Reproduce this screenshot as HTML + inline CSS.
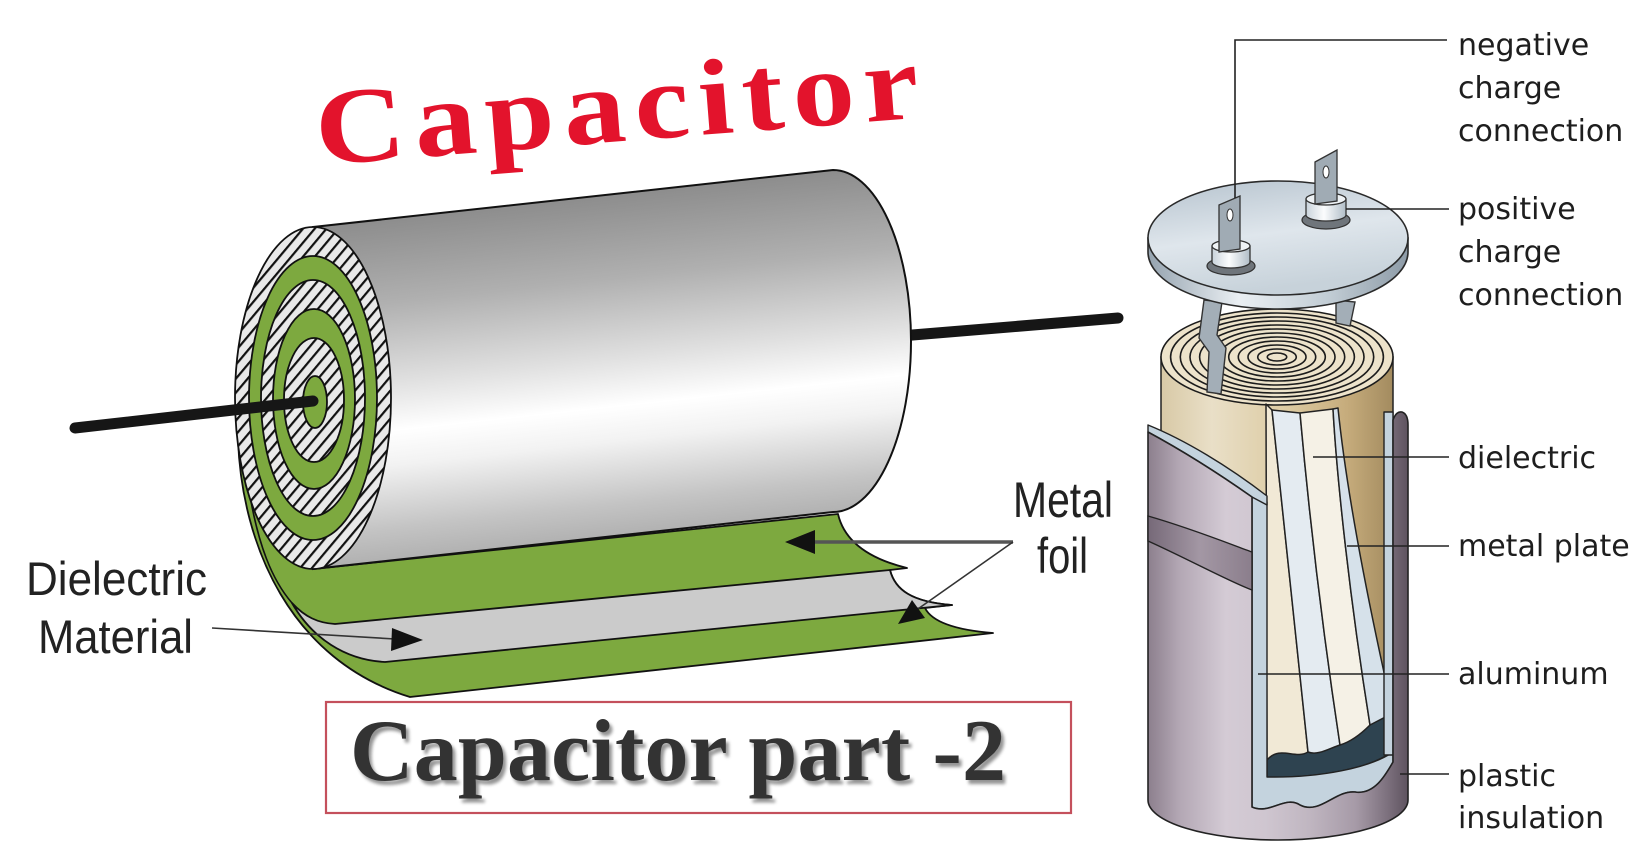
<!DOCTYPE html>
<html><head><meta charset="utf-8"><style>
html,body{margin:0;padding:0;background:#fff;}
svg{display:block;}
</style></head><body>
<svg width="1646" height="841" viewBox="0 0 1646 841" xmlns="http://www.w3.org/2000/svg">
<defs>
<pattern id="hatch" patternUnits="userSpaceOnUse" width="9" height="9" patternTransform="rotate(40)">
<rect width="9" height="9" fill="#e9e9e9"/>
<line x1="1" y1="0" x2="1" y2="9" stroke="#111" stroke-width="2.4"/>
</pattern>
<linearGradient id="cyl" gradientUnits="userSpaceOnUse" x1="560" y1="198" x2="597" y2="540">
<stop offset="0" stop-color="#8c8c8c"/>
<stop offset="0.25" stop-color="#b0b0b0"/>
<stop offset="0.48" stop-color="#e0e0e0"/>
<stop offset="0.62" stop-color="#ffffff"/>
<stop offset="0.72" stop-color="#f2f2f2"/>
<stop offset="0.9" stop-color="#c4c4c4"/>
<stop offset="1" stop-color="#b0b0b0"/>
</linearGradient>
<linearGradient id="roll" gradientUnits="userSpaceOnUse" x1="1161" y1="0" x2="1393" y2="0">
<stop offset="0" stop-color="#d8c9a6"/>
<stop offset="0.22" stop-color="#e9dfc7"/>
<stop offset="0.55" stop-color="#dccaa1"/>
<stop offset="0.8" stop-color="#c6ac7c"/>
<stop offset="1" stop-color="#a38b5f"/>
</linearGradient>
<linearGradient id="can" gradientUnits="userSpaceOnUse" x1="1148" y1="0" x2="1408" y2="0">
<stop offset="0" stop-color="#8c7f8d"/>
<stop offset="0.12" stop-color="#b3a7b4"/>
<stop offset="0.3" stop-color="#d4cbd5"/>
<stop offset="0.45" stop-color="#cfc6d0"/>
<stop offset="0.62" stop-color="#c0b6c1"/>
<stop offset="0.8" stop-color="#a69aa7"/>
<stop offset="0.92" stop-color="#7d717e"/>
<stop offset="1" stop-color="#5e535f"/>
</linearGradient>
<linearGradient id="band" gradientUnits="userSpaceOnUse" x1="1148" y1="0" x2="1252" y2="0">
<stop offset="0" stop-color="#766978"/>
<stop offset="0.5" stop-color="#a397a4"/>
<stop offset="1" stop-color="#8b7e8c"/>
</linearGradient>
<linearGradient id="disk" x1="0" y1="0" x2="0.3" y2="1">
<stop offset="0" stop-color="#b6c3ce"/>
<stop offset="0.55" stop-color="#dfe6ec"/>
<stop offset="1" stop-color="#c7d2da"/>
</linearGradient>
<linearGradient id="rim" x1="0" y1="0" x2="1" y2="0">
<stop offset="0" stop-color="#95a3af"/>
<stop offset="0.35" stop-color="#eaeff3"/>
<stop offset="0.7" stop-color="#c1ccd4"/>
<stop offset="1" stop-color="#8d9ba7"/>
</linearGradient>
<linearGradient id="boss" x1="0" y1="0" x2="1" y2="0">
<stop offset="0" stop-color="#c9d3db"/>
<stop offset="0.45" stop-color="#fbfcfd"/>
<stop offset="1" stop-color="#b0bdc7"/>
</linearGradient>
<filter id="blur" x="-5%" y="-20%" width="110%" height="140%"><feGaussianBlur stdDeviation="1.6"/></filter>
</defs>

<rect width="1646" height="841" fill="#fff"/>

<!-- Title -->
<g transform="translate(318,165) rotate(-4.5) scale(1.15,1)">
<text x="0" y="0" font-family="'Liberation Serif', serif" font-weight="bold" font-size="108" letter-spacing="8" fill="#e3132c">Capacitor</text>
</g>

<!-- ===== LEFT CAPACITOR ===== -->
<line x1="840" y1="341" x2="1118" y2="318" stroke="#161616" stroke-width="11" stroke-linecap="round"/>

<path d="M 238,440 C 242,545 290,660 410,697 L 993,633 C 955,630 932,622 925,608 L 952,605 C 912,602 895,590 890,570 L 907,568 C 866,558 844,540 838,514 L 313,569 Z" fill="#7da93f" stroke="#111" stroke-width="1.8" stroke-linejoin="round"/>
<path d="M 292,603 C 305,617 318,623 335,624 L 890,570 C 895,590 912,602 952,605 L 385,662 C 345,660 312,638 292,603 Z" fill="#cbcbcb" stroke="#111" stroke-width="1.8" stroke-linejoin="round"/>
<path d="M 249,490 C 258,545 272,580 292,603" fill="none" stroke="#111" stroke-width="1.6"/>

<path d="M 313,227 L 833,170 A 78,171 0 0 1 833,512 L 313,569 Z" fill="url(#cyl)" stroke="#111" stroke-width="2"/>

<g stroke="#111" stroke-width="1.8">
<ellipse cx="313" cy="398" rx="78" ry="171" fill="url(#hatch)"/>
<ellipse cx="313" cy="398" rx="64" ry="142" fill="#7da93f"/>
<ellipse cx="313" cy="398" rx="52" ry="118" fill="url(#hatch)"/>
<ellipse cx="314" cy="399" rx="41" ry="90" fill="#7da93f"/>
<ellipse cx="314" cy="400" rx="30" ry="62" fill="url(#hatch)"/>
<ellipse cx="315" cy="402" rx="12" ry="26" fill="#7da93f"/>
</g>

<line x1="75" y1="428" x2="313" y2="401" stroke="#161616" stroke-width="11" stroke-linecap="round"/>

<text x="26" y="595" font-family="'Liberation Sans', Arial, sans-serif" font-size="47" fill="#222" textLength="181" lengthAdjust="spacingAndGlyphs">Dielectric</text>
<text x="38" y="653" font-family="'Liberation Sans', Arial, sans-serif" font-size="47" fill="#222" textLength="155" lengthAdjust="spacingAndGlyphs">Material</text>
<line x1="212" y1="628" x2="395" y2="639" stroke="#333" stroke-width="1.6"/>
<polygon points="423,640 392,628 391,651" fill="#111"/>

<text x="1013" y="517" font-family="'Liberation Sans', Arial, sans-serif" font-size="50" fill="#222" textLength="100" lengthAdjust="spacingAndGlyphs">Metal</text>
<text x="1037" y="573" font-family="'Liberation Sans', Arial, sans-serif" font-size="50" fill="#222" textLength="51" lengthAdjust="spacingAndGlyphs">foil</text>
<line x1="1013" y1="542" x2="810" y2="542" stroke="#555" stroke-width="3.5"/>
<polygon points="785,542 815,530 815,554" fill="#111"/>
<line x1="1013" y1="542" x2="915" y2="611" stroke="#333" stroke-width="1.6"/>
<polygon points="898,624 925,618 912,600" fill="#111"/>

<rect x="326" y="702" width="745" height="111" fill="none" stroke="#c4505c" stroke-width="2.2"/>
<text x="353" y="784" font-family="'Liberation Serif', serif" font-weight="bold" font-size="88" fill="#666" opacity="0.7" filter="url(#blur)" textLength="656" lengthAdjust="spacing">Capacitor part -2</text>
<text x="350" y="780" font-family="'Liberation Serif', serif" font-weight="bold" font-size="88" fill="#333" textLength="656" lengthAdjust="spacing">Capacitor part -2</text>

<!-- ===== RIGHT CAPACITOR ===== -->
<rect x="1161" y="357" width="232" height="400" fill="url(#roll)" stroke="#222" stroke-width="1.5"/>
<g fill="none" stroke="#1c1c1c" stroke-width="1.6">
<ellipse cx="1277" cy="357" rx="116" ry="48" fill="#ede3cb"/>
<ellipse cx="1277" cy="357" rx="106.4" ry="44"/>
<ellipse cx="1277" cy="357" rx="96.7" ry="40"/>
<ellipse cx="1277" cy="357" rx="87" ry="36"/>
<ellipse cx="1277" cy="357" rx="77.4" ry="32"/>
<ellipse cx="1277" cy="357" rx="67.7" ry="28"/>
<ellipse cx="1277" cy="357" rx="58" ry="24"/>
<ellipse cx="1277" cy="357" rx="48.3" ry="20"/>
<ellipse cx="1277" cy="357" rx="38.7" ry="16"/>
<ellipse cx="1277" cy="357" rx="29" ry="12"/>
<ellipse cx="1277" cy="357" rx="19.3" ry="8"/>
<ellipse cx="1277" cy="357" rx="9.7" ry="4"/>
</g>

<path d="M 1267,735 L 1392,712 L 1392,752 C 1370,768 1320,778 1267,777 Z" fill="#2e4350" stroke="#222" stroke-width="1.4"/>
<g stroke="#222" stroke-width="1.5" stroke-linejoin="round">
<path d="M 1266,404 L 1272,410 C 1278,470 1292,600 1308,752 C 1295,760 1280,745 1267,760 Z" fill="#f1e9d6"/>
<path d="M 1272,410 L 1300,413 C 1306,480 1318,600 1340,745 C 1330,748 1318,756 1308,752 C 1292,600 1278,470 1272,410 Z" fill="#e4ebf1"/>
<path d="M 1300,413 L 1333,409 C 1337,480 1350,600 1370,725 C 1360,735 1350,742 1340,745 C 1318,600 1306,480 1300,413 Z" fill="#f5f1e6"/>
<path d="M 1333,409 L 1338,408 C 1347,497 1372,620 1393,713 L 1370,725 C 1350,600 1337,480 1333,409 Z" fill="#d6e1ea"/>
</g>
<g fill="#c4d3de" stroke="#222" stroke-width="1.4" stroke-linejoin="round">
<path d="M 1252,492 L 1267,502 L 1267,777 C 1320,778 1370,768 1393,752 L 1393,762 C 1386,774 1375,795 1355,792 C 1335,790 1320,815 1300,805 C 1285,795 1270,815 1252,807 Z"/>
<path d="M 1148,425 C 1185,440 1228,466 1267,496 L 1267,505 L 1252,497 C 1225,478 1185,452 1148,432 Z"/>
<rect x="1384" y="412" width="9" height="343"/>
</g>
<path d="M 1148,432 C 1185,452 1225,478 1252,497 L 1252,807 C 1270,815 1285,795 1300,805 C 1320,815 1335,790 1355,792 C 1375,795 1386,774 1393,762 L 1393,420 Q 1396,411 1402,412 Q 1408,414 1408,425 L 1408,800 A 130,40 0 0 1 1148,800 Z" fill="url(#can)" stroke="#222" stroke-width="1.6" stroke-linejoin="round"/>
<path d="M 1148,516 C 1190,528 1230,544 1252,552 L 1252,590 C 1230,582 1190,560 1148,541 Z" fill="url(#band)" stroke="#222" stroke-width="1.4"/>

<polygon points="1204,300 1222,302 1217,335 1226,348 1221,394 1207,392 1209,352 1199,338" fill="#a3aeb7" stroke="#333" stroke-width="1.4"/>
<polygon points="1336,300 1355,302 1350,326 1336,323" fill="#a3aeb7" stroke="#333" stroke-width="1.4"/>

<g stroke="#2a2a2a" stroke-width="1.6">
<path d="M 1148,238 L 1148,252 A 130,57 0 0 0 1408,252 L 1408,238 Z" fill="url(#rim)"/>
<ellipse cx="1278" cy="238" rx="130" ry="57" fill="url(#disk)"/>
</g>

<ellipse cx="1231" cy="266" rx="24" ry="9" fill="#6f757b" stroke="#333" stroke-width="1.2"/>
<path d="M 1212,246 L 1212,262 A 19,6 0 0 0 1250,262 L 1250,246 Z" fill="url(#boss)" stroke="#333" stroke-width="1.3"/>
<ellipse cx="1231" cy="246" rx="19" ry="6" fill="#eef2f5" stroke="#333" stroke-width="1.3"/>
<polygon points="1219,205 1240,196 1240,249 1219,252" fill="#a0abb4" stroke="#333" stroke-width="1.3"/>
<ellipse cx="1230" cy="215" rx="3" ry="6" fill="#fff" stroke="#333" stroke-width="1"/>

<ellipse cx="1326" cy="220" rx="24" ry="9" fill="#6f757b" stroke="#333" stroke-width="1.2"/>
<path d="M 1306,199 L 1306,215 A 20,6 0 0 0 1346,215 L 1346,199 Z" fill="url(#boss)" stroke="#333" stroke-width="1.3"/>
<ellipse cx="1326" cy="199" rx="20" ry="6" fill="#eef2f5" stroke="#333" stroke-width="1.3"/>
<polygon points="1315,162 1337,150 1337,201 1315,204" fill="#a0abb4" stroke="#333" stroke-width="1.3"/>
<ellipse cx="1326" cy="172" rx="3" ry="6" fill="#fff" stroke="#333" stroke-width="1"/>

<g stroke="#222" stroke-width="1.6" fill="none">
<polyline points="1235,198 1235,40 1447,40"/>
<line x1="1346" y1="209" x2="1449" y2="209"/>
<line x1="1313" y1="457" x2="1449" y2="457"/>
<line x1="1347" y1="546" x2="1449" y2="546"/>
<line x1="1258" y1="674" x2="1449" y2="674"/>
<line x1="1400" y1="774" x2="1449" y2="774"/>
</g>

<g font-family="'DejaVu Sans', 'Liberation Sans', sans-serif" font-size="30" fill="#1e1e1e">
<text x="1458" y="55">negative</text>
<text x="1458" y="98">charge</text>
<text x="1458" y="141">connection</text>
<text x="1458" y="219">positive</text>
<text x="1458" y="262">charge</text>
<text x="1458" y="305">connection</text>
<text x="1458" y="468">dielectric</text>
<text x="1458" y="556">metal plate</text>
<text x="1458" y="684">aluminum</text>
<text x="1458" y="786">plastic</text>
<text x="1458" y="828">insulation</text>
</g>
</svg>
</body></html>
